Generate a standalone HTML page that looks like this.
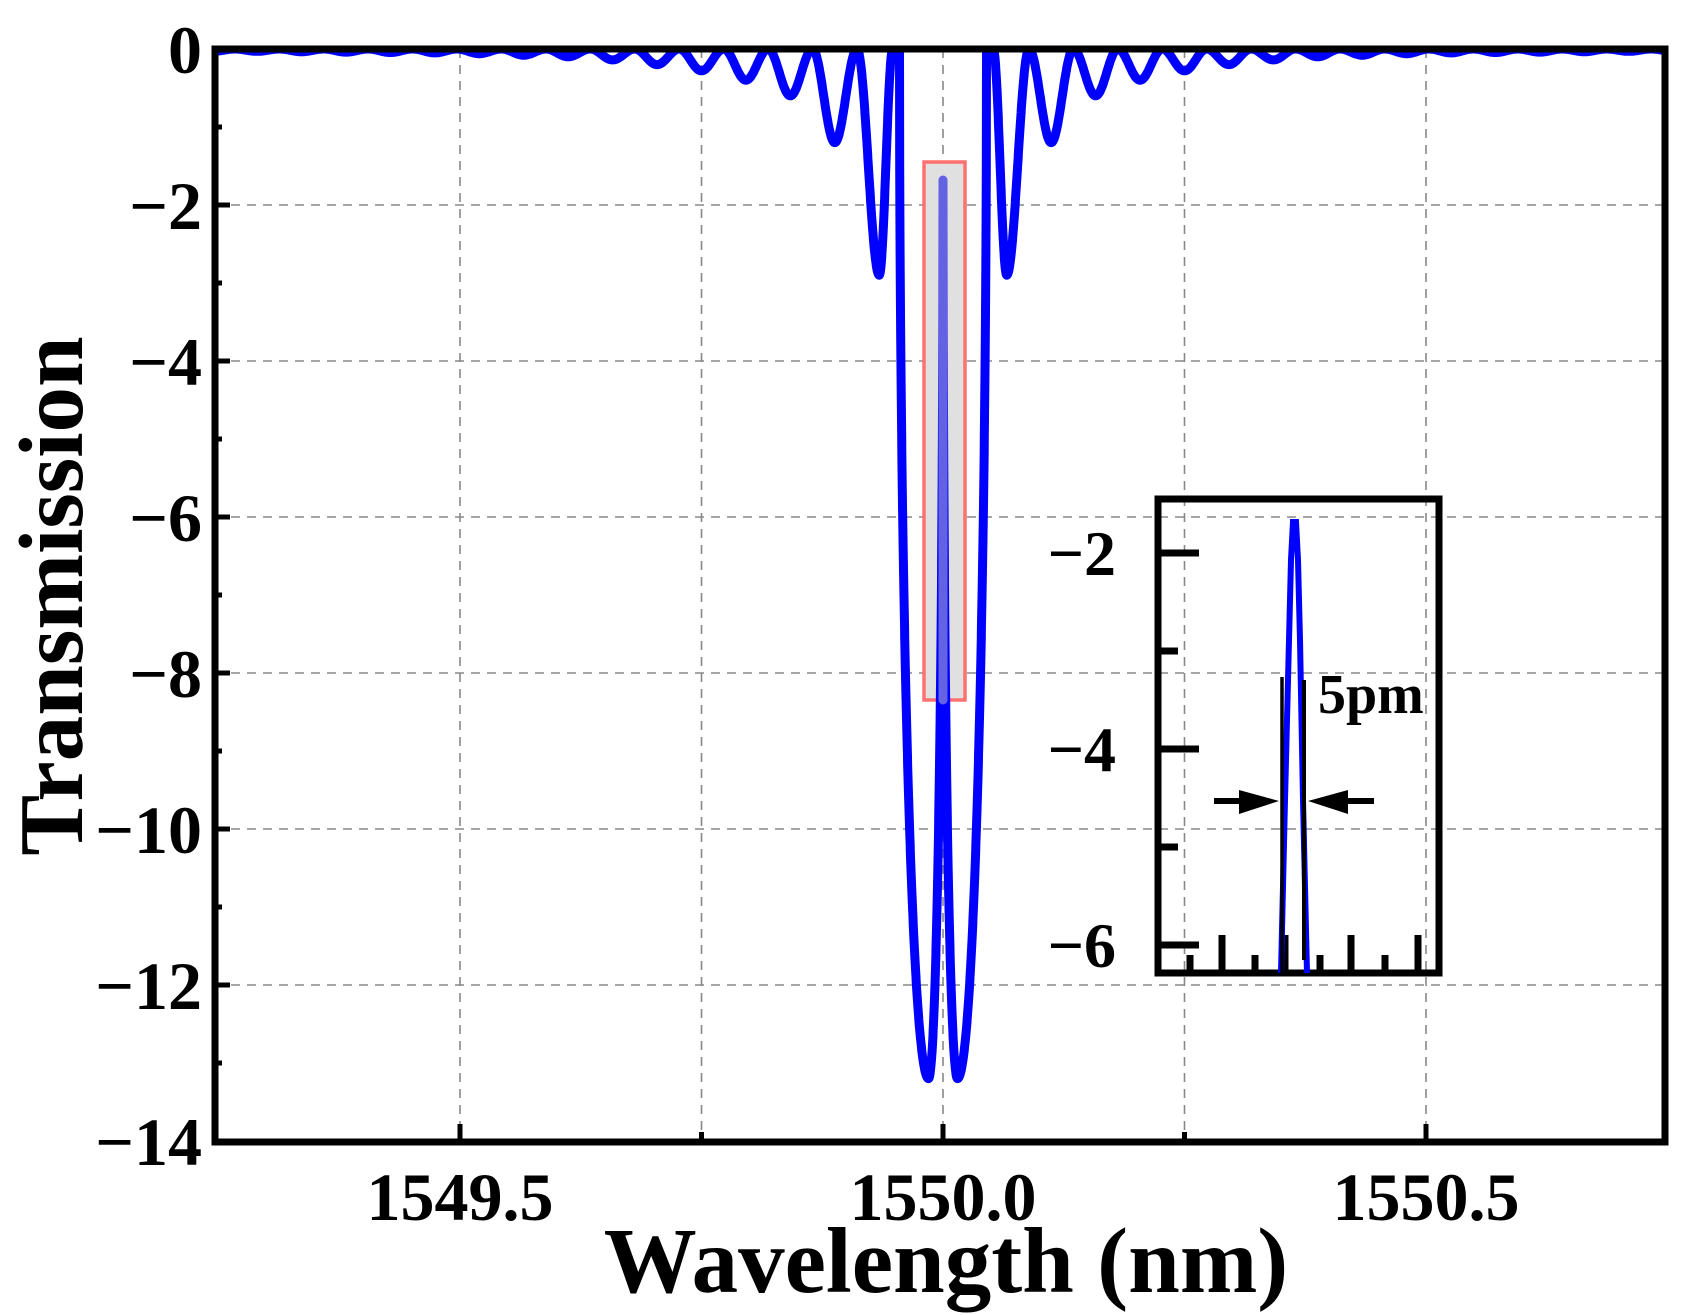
<!DOCTYPE html>
<html><head><meta charset="utf-8"><style>
html,body{margin:0;padding:0;background:#fff;}
svg{display:block;}
text{font-family:"Liberation Serif",serif;font-weight:bold;fill:#000;}
</style></head><body>
<svg id="s" width="1695" height="1315" viewBox="0 0 1695 1315" xmlns="http://www.w3.org/2000/svg">
<defs><clipPath id="cp"><rect x="215" y="49" width="1450" height="1093"/></clipPath></defs>
<g id="grid" stroke="#888" stroke-width="1.6" stroke-dasharray="9,7" fill="none"></g>
<rect x="924" y="162" width="41" height="538" fill="#e0e0e0" stroke="#ff7070" stroke-width="3.5"/>
<path id="curve" clip-path="url(#cp)" fill="none" stroke="#0000ff" stroke-width="9" stroke-linejoin="round"/>
<line x1="943" y1="180" x2="943" y2="700" stroke="#6262e2" stroke-width="9" stroke-linecap="round"/>
<rect x="215" y="49" width="1450" height="1093" fill="none" stroke="#000" stroke-width="7"/>
<g id="ticks" stroke="#000" stroke-width="5"></g>
<g id="labels" font-size="68"></g>
<text x="946" y="1292" font-size="93" text-anchor="middle">Wavelength (nm)</text>
<text transform="translate(82,596) rotate(-90)" font-size="91" text-anchor="middle">Transmission</text>
<!-- inset -->
<rect x="1158" y="499" width="281" height="474" fill="none" stroke="#000" stroke-width="7"/>
<g stroke="#000" stroke-width="7">
<line x1="1158" y1="553" x2="1199" y2="553"/><line x1="1158" y1="749" x2="1199" y2="749"/><line x1="1158" y1="945" x2="1199" y2="945"/>
<line x1="1158" y1="651" x2="1178" y2="651"/><line x1="1158" y1="847" x2="1178" y2="847"/>
<line x1="1222" y1="935" x2="1222" y2="973"/><line x1="1285" y1="935" x2="1285" y2="973"/><line x1="1351" y1="935" x2="1351" y2="973"/><line x1="1418" y1="935" x2="1418" y2="973"/>
<line x1="1190" y1="955" x2="1190" y2="973"/><line x1="1255" y1="955" x2="1255" y2="973"/><line x1="1320" y1="955" x2="1320" y2="973"/><line x1="1385" y1="955" x2="1385" y2="973"/>
</g>
<polyline points="1281,973 1285,800 1289,640 1291,560 1293,522 1296,522 1298,560 1300,640 1303,800 1307,973" fill="none" stroke="#0000ff" stroke-width="6"/>
<line x1="1282" y1="677" x2="1282" y2="973" stroke="#000" stroke-width="3.5"/>
<line x1="1304" y1="680" x2="1304" y2="960" stroke="#000" stroke-width="4"/>
<line x1="1214" y1="801" x2="1250" y2="801" stroke="#000" stroke-width="6"/>
<polygon points="1239,790 1279,801 1239,814" fill="#000"/>
<line x1="1374" y1="801" x2="1342" y2="801" stroke="#000" stroke-width="6"/>
<polygon points="1348,790 1308,801 1348,814" fill="#000"/>
<text x="1318" y="713" font-size="56">5pm</text>
<g font-size="64" text-anchor="end">
<text x="1116" y="575">−2</text><text x="1116" y="771">−4</text><text x="1116" y="967">−6</text>
</g>
</svg>
<script>
(function(){
var NS="http://www.w3.org/2000/svg";
function X(l){return 943+(l-1550)*966;}
function Y(v){return 49-v*78;}
var g=document.getElementById('grid');
function ln(p,x1,y1,x2,y2){var e=document.createElementNS(NS,'line');e.setAttribute('x1',x1);e.setAttribute('y1',y1);e.setAttribute('x2',x2);e.setAttribute('y2',y2);p.appendChild(e);}
[1549.5,1549.75,1550,1550.25,1550.5].forEach(function(l){ln(g,X(l),49,X(l),1142);});
for(var v=-2;v>=-12;v-=2){ln(g,215,Y(v),1665,Y(v));}
var tk=document.getElementById('ticks');
[1549.5,1550,1550.5].forEach(function(l){ln(tk,X(l),1142,X(l),1124);});
[1549.75,1550.25].forEach(function(l){ln(tk,X(l),1142,X(l),1132);});
for(var v=0;v>=-14;v--){ln(tk,215,Y(v),v%2==0?230:222,Y(v));}
var lb=document.getElementById('labels');
function tx(s,x,y,a){var e=document.createElementNS(NS,'text');e.setAttribute('x',x);e.setAttribute('y',y);e.setAttribute('text-anchor',a);e.textContent=s;lb.appendChild(e);}
for(var v=0;v>=-14;v-=2){tx(v==0?'0':'−'+(-v),202,Y(v)+24,'end');}
tx('1549.5',X(1549.5),1220,'middle');tx('1550.0',X(1550),1220,'middle');tx('1550.5',X(1550.5),1220,'middle');
var dips=[2.9,1.2,0.6,0.4,0.28,0.2,0.14,0.1,0.08,0.06,0.05,0.045,0.04,0.035,0.03,0.03,0.03,0.03,0.03,0.03];
function T(u){u=Math.abs(u);var t;
 if(u<0.015){t=(0.015-u)/0.015;return -1.7-11.5*Math.sqrt(Math.max(0,1-t*t));}
 if(u<0.045){t=(u-0.015)/0.03;return -13.2*Math.sqrt(Math.max(0,1-t*t));}
 if(u<0.052)return 0;
 if(u<0.066)return -2.9*(1-Math.cos(Math.PI*(u-0.052)/0.014))/2;
 var P=0.046;var n=Math.round((u-0.066)/P);var D=dips[Math.min(n,dips.length-1)];
 return -D*(1+Math.cos(2*Math.PI*(u-0.066)/P))/2;}
var d='';var first=true;
for(var l=1549.23;l<=1550.77;l+=0.0002){var u=l-1550;var v=T(u);d+=(first?'M':'L')+X(l).toFixed(1)+','+Y(v).toFixed(1);first=false;}
document.getElementById('curve').setAttribute('d',d);
})();
</script>
</body></html>
